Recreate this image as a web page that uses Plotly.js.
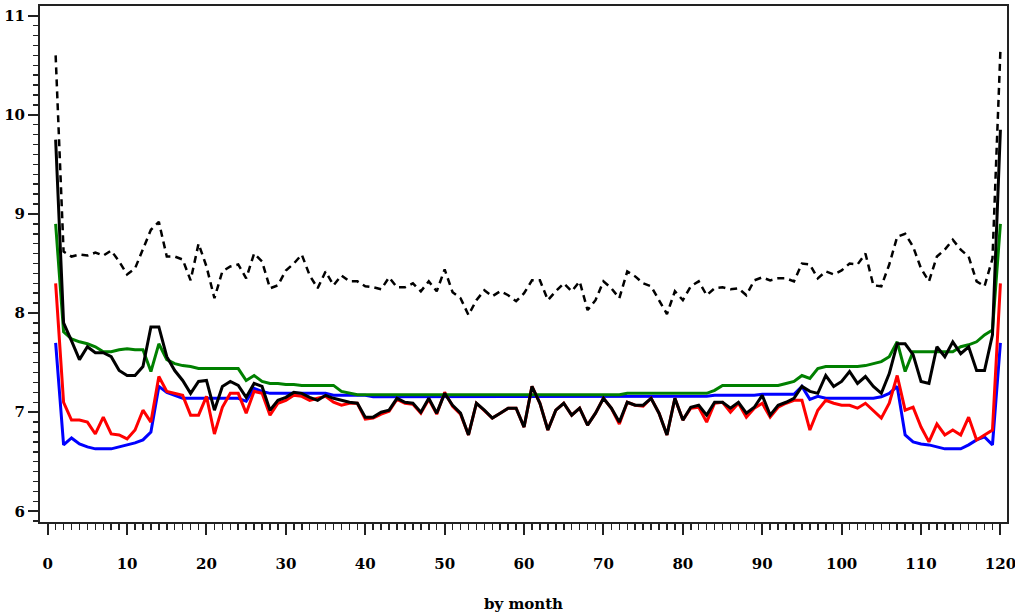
<!DOCTYPE html>
<html>
<head>
<meta charset="utf-8">
<script src="https://cdn.plot.ly/plotly-3.0.1.min.js"></script>
<style>html,body{margin:0;padding:0;background:#fff;}#chart{width:1015px;height:613px;}</style>
</head>
<body>
<div id="chart"></div>
<script>
var months = [];
for (var i = 1; i <= 120; i++) months.push(i);

var dashedBlack = [10.6,8.62,8.57,8.59,8.58,8.61,8.58,8.63,8.52,8.39,
8.45,8.64,8.84,8.92,8.57,8.57,8.54,8.33,8.70,8.47,
8.15,8.42,8.47,8.49,8.35,8.60,8.52,8.25,8.28,8.43,
8.50,8.59,8.38,8.25,8.42,8.28,8.38,8.32,8.32,8.27,
8.26,8.24,8.36,8.26,8.26,8.30,8.22,8.32,8.22,8.44,
8.21,8.15,7.98,8.13,8.23,8.17,8.22,8.18,8.12,8.20,
8.33,8.33,8.13,8.22,8.30,8.22,8.32,8.03,8.13,8.32,
8.25,8.15,8.42,8.37,8.30,8.27,8.13,7.99,8.22,8.13,
8.27,8.32,8.18,8.25,8.26,8.24,8.25,8.18,8.33,8.36,
8.33,8.35,8.35,8.32,8.50,8.49,8.35,8.42,8.39,8.43,
8.50,8.49,8.60,8.28,8.27,8.49,8.77,8.80,8.67,8.45,
8.32,8.57,8.64,8.74,8.64,8.57,8.32,8.27,8.55,10.65];

var solidBlack = [9.75,7.90,7.72,7.53,7.66,7.60,7.60,7.56,7.42,7.37,
7.37,7.46,7.86,7.86,7.56,7.42,7.32,7.19,7.31,7.32,
7.02,7.26,7.31,7.27,7.15,7.29,7.26,7.02,7.12,7.15,
7.20,7.19,7.15,7.12,7.17,7.14,7.12,7.10,7.09,6.95,
6.95,7.00,7.02,7.14,7.10,7.09,7.00,7.14,6.99,7.19,
7.07,6.99,6.77,7.09,7.02,6.94,6.99,7.04,7.04,6.85,
7.26,7.09,6.82,7.02,7.09,6.97,7.04,6.87,6.99,7.14,
7.04,6.90,7.10,7.07,7.07,7.14,6.99,6.77,7.14,6.92,
7.05,7.07,6.97,7.10,7.10,7.04,7.10,6.99,7.05,7.17,
6.97,7.07,7.10,7.14,7.26,7.21,7.19,7.37,7.26,7.31,
7.41,7.29,7.36,7.26,7.19,7.39,7.69,7.69,7.58,7.31,
7.29,7.66,7.56,7.71,7.59,7.66,7.42,7.42,7.78,9.85];

var green = [8.90,7.81,7.74,7.71,7.69,7.66,7.61,7.61,7.63,7.64,
7.63,7.63,7.41,7.69,7.53,7.49,7.47,7.46,7.44,7.44,
7.44,7.44,7.44,7.44,7.32,7.37,7.31,7.29,7.29,7.28,
7.28,7.27,7.27,7.27,7.27,7.27,7.21,7.19,7.175,7.175,
7.175,7.175,7.175,7.175,7.175,7.175,7.175,7.175,7.175,7.175,
7.175,7.175,7.175,7.175,7.175,7.175,7.175,7.175,7.175,7.175,
7.175,7.175,7.175,7.175,7.175,7.175,7.175,7.175,7.175,7.175,
7.175,7.175,7.19,7.19,7.19,7.19,7.19,7.19,7.19,7.19,
7.19,7.19,7.19,7.22,7.27,7.27,7.27,7.27,7.27,7.27,
7.27,7.27,7.29,7.31,7.37,7.34,7.44,7.46,7.46,7.46,
7.46,7.46,7.47,7.49,7.51,7.56,7.71,7.41,7.61,7.61,
7.61,7.61,7.61,7.61,7.66,7.68,7.71,7.78,7.83,8.90];

var red = [8.30,7.10,6.92,6.92,6.90,6.78,6.95,6.78,6.77,6.73,
6.82,7.02,6.90,7.36,7.21,7.19,7.17,6.97,6.97,7.16,
6.78,7.05,7.19,7.19,6.99,7.21,7.19,6.97,7.09,7.12,
7.17,7.16,7.12,7.14,7.16,7.10,7.07,7.09,7.09,6.93,
6.94,6.98,7.01,7.13,7.09,7.08,6.99,7.13,6.98,7.20,
7.06,6.98,6.77,7.09,7.02,6.94,6.99,7.04,7.04,6.85,
7.26,7.09,6.82,7.02,7.09,6.97,7.04,6.87,6.99,7.14,
7.04,6.88,7.10,7.07,7.06,7.14,6.99,6.77,7.14,6.92,
7.04,7.05,6.90,7.09,7.10,7.00,7.09,6.95,7.04,7.09,
6.95,7.05,7.09,7.12,7.12,6.82,7.02,7.12,7.09,7.07,
7.07,7.04,7.09,7.02,6.94,7.09,7.37,7.02,7.05,6.85,
6.70,6.88,6.77,6.82,6.77,6.95,6.72,6.77,6.82,8.30];

var blue = [7.70,6.67,6.74,6.68,6.65,6.63,6.63,6.63,6.65,6.67,
6.69,6.72,6.80,7.26,7.20,7.17,7.14,7.14,7.14,7.14,
7.14,7.14,7.14,7.14,7.11,7.24,7.21,7.19,7.19,7.19,
7.19,7.19,7.19,7.19,7.19,7.17,7.17,7.17,7.17,7.17,
7.155,7.155,7.155,7.155,7.155,7.155,7.155,7.155,7.155,7.155,
7.155,7.155,7.155,7.155,7.155,7.155,7.155,7.155,7.155,7.155,
7.155,7.155,7.155,7.155,7.155,7.155,7.155,7.155,7.155,7.155,
7.155,7.155,7.155,7.155,7.155,7.155,7.155,7.155,7.155,7.155,
7.16,7.16,7.16,7.17,7.17,7.17,7.17,7.17,7.17,7.18,
7.18,7.18,7.18,7.18,7.26,7.13,7.16,7.14,7.14,7.14,
7.14,7.14,7.14,7.14,7.155,7.19,7.26,6.77,6.70,6.68,
6.67,6.65,6.63,6.63,6.63,6.67,6.72,6.75,6.67,7.70];

var xTickVals = [0,10,20,30,40,50,60,70,80,90,100,110,120];
var yTickVals = [6,7,8,9,10,11];
var xTitle = 'by month';

function tr(y, color, width, dash) {
  return {x: months, y: y, type: 'scatter', mode: 'lines',
    line: {color: color, width: width, dash: dash || 'solid'}, hoverinfo: 'skip'};
}

var data = [
  tr(blue, '#0000FF', 3),
  tr(red, '#FF0000', 3),
  tr(green, '#008000', 3),
  tr(solidBlack, '#000000', 3),
  tr(dashedBlack, '#000000', 2.5, '7px,5px')
];

var tickFont = {family: '"DejaVu Serif", serif', size: 15, color: '#000', weight: 'bold'};

var layout = {
  width: 1015, height: 613, autosize: false,
  margin: {l: 40, r: 8, t: 6, b: 91, pad: 0},
  paper_bgcolor: '#fff', plot_bgcolor: '#fff',
  showlegend: false,
  xaxis: {
    range: [-0.97, 120.83], showgrid: false, zeroline: false,
    showline: true, linecolor: '#222', linewidth: 2, mirror: true,
    ticks: 'outside', ticklen: 11, tickwidth: 2, tickcolor: '#222',
    tickvals: xTickVals, ticktext: xTickVals.map(String),
    ticklabelstandoff: 16, ticklabeloverflow: 'allow',
    minor: {dtick: 1, ticks: 'outside', ticklen: 6, tickwidth: 1.5, tickcolor: '#222', showgrid: false},
    tickfont: tickFont,
    title: {text: xTitle, font: tickFont, standoff: 28}
  },
  yaxis: {
    range: [5.892, 11.098], showgrid: false, zeroline: false,
    showline: true, linecolor: '#222', linewidth: 2, mirror: true,
    ticks: 'outside', ticklen: 10, tickwidth: 2, tickcolor: '#222',
    tickvals: yTickVals, ticktext: yTickVals.map(String),
    minor: {dtick: 0.1, ticks: 'outside', ticklen: 5, tickwidth: 1.5, tickcolor: '#222', showgrid: false},
    tickfont: tickFont
  }
};

Plotly.newPlot('chart', data, layout, {staticPlot: true, displayModeBar: false});
</script>
</body>
</html>
